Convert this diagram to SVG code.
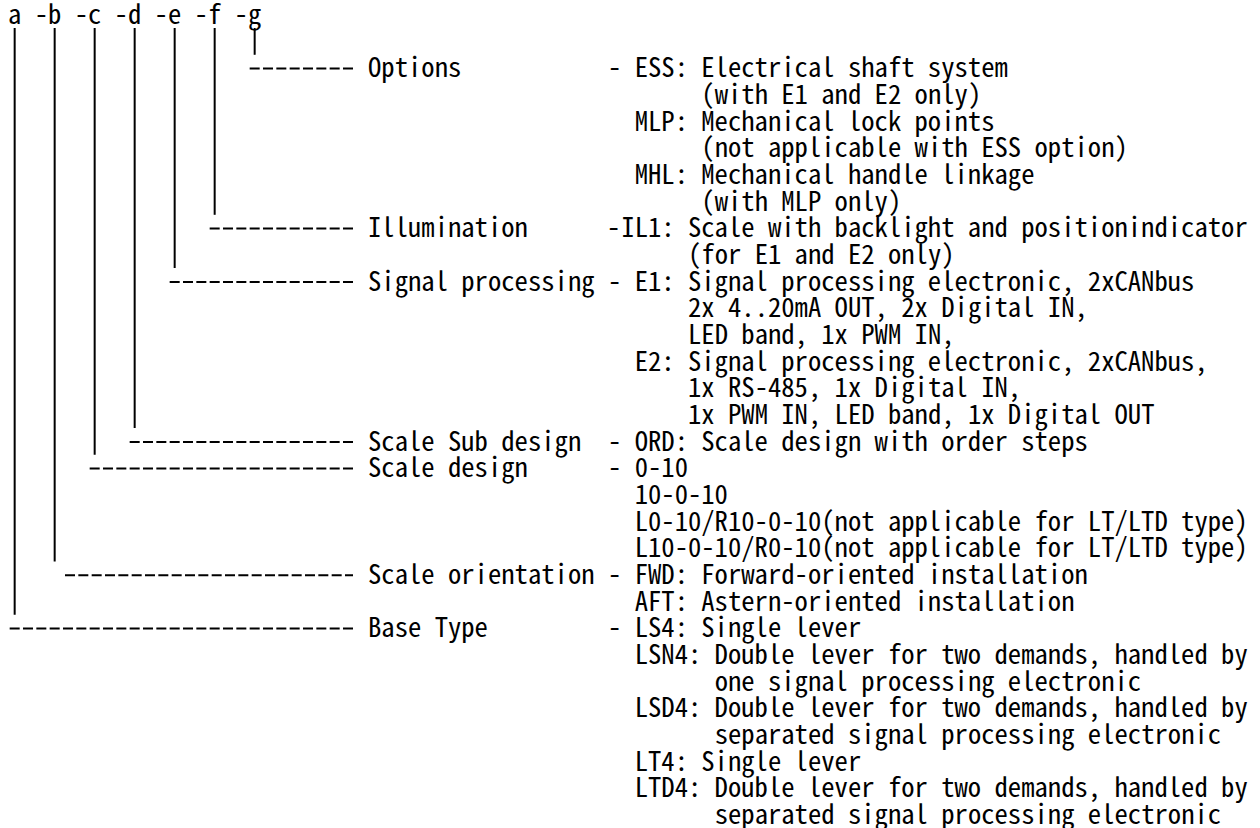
<svg xmlns="http://www.w3.org/2000/svg" width="1260" height="828" viewBox="0 0 1260 828">
<style>
.t{font-family:"Noto Sans Mono CJK JP","Noto Sans Mono CJK SC",monospace;font-size:26.667px;fill:#000}
.v{stroke:#000;stroke-width:2;fill:none}
.h{stroke:#000;stroke-width:2;fill:none;stroke-dasharray:10 3.3333}
</style>
<rect width="1260" height="828" fill="#fff"/>
<g id="connectors">
<line class="v" x1="14.67" y1="28" x2="14.67" y2="614.8"/>
<line class="v" x1="54.67" y1="28" x2="54.67" y2="561.5"/>
<line class="v" x1="94.67" y1="28" x2="94.67" y2="454.8"/>
<line class="v" x1="134.67" y1="28" x2="134.67" y2="428"/>
<line class="v" x1="174.67" y1="28" x2="174.67" y2="268"/>
<line class="v" x1="214.67" y1="28" x2="214.67" y2="214.8"/>
<line class="v" x1="254.67" y1="28" x2="254.67" y2="54.8"/>
<line class="h" x1="249.67" y1="68.6" x2="353" y2="68.6"/>
<line class="h" x1="209.67" y1="228.6" x2="353" y2="228.6"/>
<line class="h" x1="169.67" y1="282" x2="353" y2="282"/>
<line class="h" x1="129.67" y1="442" x2="353" y2="442"/>
<line class="h" x1="89.67" y1="468.6" x2="353" y2="468.6"/>
<line class="h" x1="65" y1="575.3" x2="353" y2="575.3"/>
<line class="h" x1="9.67" y1="628.6" x2="353" y2="628.6"/>
</g>
<g id="header">
<text class="t" x="8" y="24">a -b -c -d -e -f -g</text>
</g>
<g id="options">
<text class="t" x="368" y="77.33">Options</text>
<text class="t" x="608" y="77.33">-</text>
<text class="t" x="634.67" y="77.33">ESS: Electrical shaft system</text>
<text class="t" x="701.33" y="104">(with E1 and E2 only)</text>
<text class="t" x="634.67" y="130.67">MLP: Mechanical lock points</text>
<text class="t" x="701.33" y="157.33">(not applicable with ESS option)</text>
<text class="t" x="634.67" y="184">MHL: Mechanical handle linkage</text>
<text class="t" x="701.33" y="210.67">(with MLP only)</text>
</g>
<g id="illumination">
<text class="t" x="368" y="237.33">Illumination</text>
<text class="t" x="607" y="237.33">-</text>
<text class="t" x="621.33" y="237.33">IL1: Scale with backlight and positionindicator</text>
<text class="t" x="688" y="264">(for E1 and E2 only)</text>
</g>
<g id="signal-processing">
<text class="t" x="368" y="290.67">Signal processing</text>
<text class="t" x="608" y="290.67">-</text>
<text class="t" x="634.67" y="290.67">E1: Signal processing electronic, 2xCANbus</text>
<text class="t" x="688" y="317.33">2x 4..20mA OUT, 2x Digital IN,</text>
<text class="t" x="688" y="344">LED band, 1x PWM IN,</text>
<text class="t" x="634.67" y="370.67">E2: Signal processing electronic, 2xCANbus,</text>
<text class="t" x="688" y="397.33">1x RS-485, 1x Digital IN,</text>
<text class="t" x="688" y="424">1x PWM IN, LED band, 1x Digital OUT</text>
</g>
<g id="scale-sub-design">
<text class="t" x="368" y="450.67">Scale Sub design</text>
<text class="t" x="608" y="450.67">-</text>
<text class="t" x="634.67" y="450.67">ORD: Scale design with order steps</text>
</g>
<g id="scale-design">
<text class="t" x="368" y="477.33">Scale design</text>
<text class="t" x="608" y="477.33">-</text>
<text class="t" x="634.67" y="477.33">0-10</text>
<text class="t" x="634.67" y="504">10-0-10</text>
<text class="t" x="634.67" y="530.67">L0-10/R10-0-10(not applicable for LT/LTD type)</text>
<text class="t" x="634.67" y="557.33">L10-0-10/R0-10(not applicable for LT/LTD type)</text>
</g>
<g id="scale-orientation">
<text class="t" x="368" y="584">Scale orientation</text>
<text class="t" x="608" y="584">-</text>
<text class="t" x="634.67" y="584">FWD: Forward-oriented installation</text>
<text class="t" x="634.67" y="610.67">AFT: Astern-oriented installation</text>
</g>
<g id="base-type">
<text class="t" x="368" y="637.33">Base Type</text>
<text class="t" x="608" y="637.33">-</text>
<text class="t" x="634.67" y="637.33">LS4: Single lever</text>
<text class="t" x="634.67" y="664">LSN4: Double lever for two demands, handled by</text>
<text class="t" x="714.67" y="690.67">one signal processing electronic</text>
<text class="t" x="634.67" y="717.33">LSD4: Double lever for two demands, handled by</text>
<text class="t" x="714.67" y="744">separated signal processing electronic</text>
<text class="t" x="634.67" y="770.67">LT4: Single lever</text>
<text class="t" x="634.67" y="797.33">LTD4: Double lever for two demands, handled by</text>
<text class="t" x="714.67" y="824">separated signal processing electronic</text>
</g>
</svg>
